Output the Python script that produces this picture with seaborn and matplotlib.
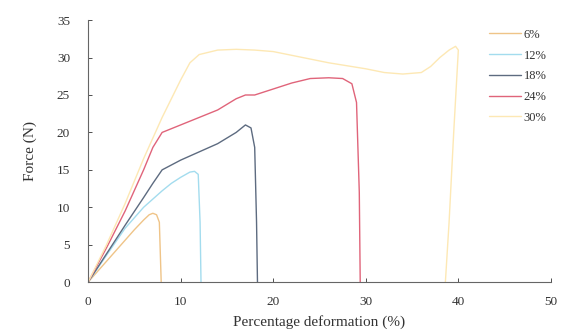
import pandas as pd
import matplotlib.pyplot as plt
import seaborn as sns

# curves
x6 = [0, 1, 2, 3, 4, 5, 6, 6.6, 7.0, 7.4, 7.7, 7.8, 7.9]
y6 = [0, 1.4, 2.8, 4.2, 5.6, 7.0, 8.3, 9.0, 9.2, 9.0, 8.0, 4.0, 0]

x12 = [0, 2, 4, 6, 8, 9, 10, 11, 11.5, 11.9, 12.1, 12.2]
y12 = [0, 3.6, 7.2, 10.0, 12.2, 13.2, 14.0, 14.7, 14.8, 14.4, 8.0, 0]

x18 = [0, 2, 4, 6, 7, 8, 10, 12, 14, 16, 17, 17.6, 18.0, 18.2, 18.3]
y18 = [0, 3.8, 7.6, 11.3, 13.2, 15.0, 16.3, 17.4, 18.5, 20.0, 21.0, 20.6, 18.0, 8.0, 0]

x24 = [0, 2, 4, 6, 7, 8, 10, 12, 14, 16, 17, 18, 20, 22, 24, 26, 27.5, 28.5, 29.0, 29.3, 29.4]
y24 = [0, 4.6, 9.5, 15.0, 18.0, 20.0, 21.0, 22.0, 23.0, 24.5, 25.0, 25.0, 25.8, 26.6, 27.2, 27.3, 27.2, 26.5, 24.0, 12.0, 0]

x30 = [0, 2, 4, 6, 8, 10, 11, 12, 14, 16, 18, 20, 22, 24, 26, 28, 30, 32, 34, 36, 37, 38, 39, 39.7, 40, 39.5, 39.0, 38.6]
y30 = [0, 5.0, 10.5, 16.5, 22.0, 27.0, 29.3, 30.4, 31.0, 31.1, 31.0, 30.8, 30.3, 29.8, 29.3, 28.9, 28.5, 28.0, 27.8, 28.0, 28.8, 30.0, 31.0, 31.5, 31.0, 20.0, 8.0, 0]

labels = ["6%", "12%", "18%", "24%", "30%"]
colors = ["#efc488", "#a3dcee", "#5d6b80", "#e0647a", "#fde8b4"]

frames = []
for lab, xs, ys in zip(labels, [x6, x12, x18, x24, x30], [y6, y12, y18, y24, y30]):
    frames.append(pd.DataFrame({"x": xs, "y": ys, "series": lab}))
df = pd.concat(frames, ignore_index=True)

sns.set_style("ticks")
plt.rcParams["font.family"] = ["Liberation Serif", "DejaVu Serif"]

fig = plt.figure(figsize=(5.61, 3.30), dpi=100)
ax = fig.add_axes([0.157, 0.145, 0.825, 0.794])

sns.lineplot(data=df, x="x", y="y", hue="series", palette=colors,
             sort=False, estimator=None, linewidth=1.0, ax=ax)

ax.set_xlim(0, 50)
ax.set_ylim(0, 35)
ax.set_xticks(range(0, 51, 10))
ax.set_yticks(range(0, 36, 5))
ax.tick_params(direction="in", length=3, labelsize=9.5, colors="#333333", width=0.6)
ax.tick_params(axis="y", pad=13)
ax.tick_params(axis="x", pad=10)
ax.set_xlabel("Percentage deformation (%)", fontsize=11, color="#333333", labelpad=5)
ax.set_ylabel("Force (N)", fontsize=11, color="#333333", labelpad=14)
for s in ["top", "right"]:
    ax.spines[s].set_visible(False)
for s in ["left", "bottom"]:
    ax.spines[s].set_color("#666666")
    ax.spines[s].set_linewidth(0.8)

leg = ax.legend(loc="upper right", bbox_to_anchor=(1.015, 1.01), frameon=False,
                fontsize=9, handlelength=2.6, handletextpad=0.2, labelspacing=0.7)
for t in leg.get_texts():
    t.set_color("#333333")

fig.savefig("out.png", dpi=100)
